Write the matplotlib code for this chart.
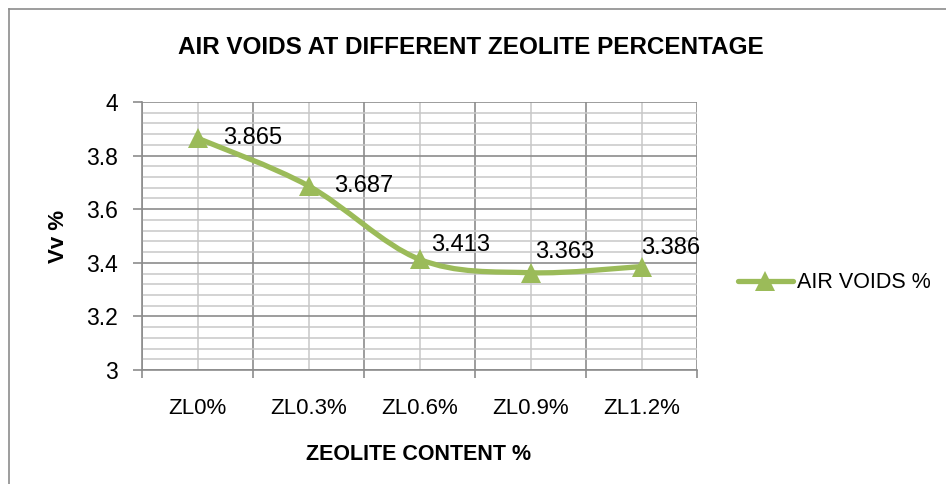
import matplotlib
matplotlib.use("Agg")
import matplotlib.pyplot as plt
from matplotlib.path import Path
from matplotlib.patches import PathPatch
from matplotlib.lines import Line2D
from matplotlib.ticker import MultipleLocator, FixedLocator
import numpy as np

# ---- data ----
categories = ["ZL0%", "ZL0.3%", "ZL0.6%", "ZL0.9%", "ZL1.2%"]
air_voids = [3.865, 3.687, 3.413, 3.363, 3.386]
label_texts = ["3.865", "3.687", "3.413", "3.363", "3.386"]
series_name = "AIR VOIDS %"
title = "AIR VOIDS AT DIFFERENT ZEOLITE PERCENTAGE"
x_title = "ZEOLITE CONTENT %"
y_title = "Vv %"

# label offsets (points) - placement only
label_offsets = [(18.5, 0), (18.5, 0), (8.5, 10.5), (3.5, 15), (0, 13)]

plt.rcParams["font.family"] = ["Liberation Sans", "DejaVu Sans"]

W, H = 946, 484
fig = plt.figure(figsize=(W / 100, H / 100), dpi=100)
fig.patch.set_facecolor("white")

L, R, T, B = 142, 697, 102, 370
ax = fig.add_axes([L / W, 1 - B / H, (R - L) / W, (B - T) / H])

green = "#9BBB59"
major_c = "#8C8C8C"
minor_c = "#C8C8C8"

x = np.arange(len(categories))
ax.set_xlim(-0.5, len(categories) - 0.5)
ax.set_ylim(3.0, 4.0)

# grid
ax.yaxis.set_major_locator(MultipleLocator(0.2))
ax.yaxis.set_minor_locator(MultipleLocator(0.04))
ax.xaxis.set_major_locator(FixedLocator(np.arange(-0.5, len(categories), 1.0)))
ax.xaxis.set_minor_locator(FixedLocator(x))
ax.grid(which="minor", color=minor_c, lw=1.1, zorder=0)
ax.grid(which="major", color=major_c, lw=1.2, zorder=0.5)
ax.set_axisbelow(True)

ax.set_yticks([3.0, 3.2, 3.4, 3.6, 3.8, 4.0])
ax.set_yticklabels(["3", "3.2", "3.4", "3.6", "3.8", "4"])
ax.set_xticklabels([""] * 6)
ax.tick_params(axis="y", which="major", direction="out", length=6.5, width=1.2,
               color=major_c, labelsize=16.5, pad=11)
ax.tick_params(axis="x", which="major", direction="out", length=6, width=1.2,
               color=major_c)
ax.tick_params(which="minor", length=0)
for i, c in enumerate(categories):
    ax.annotate(c, xy=(x[i], 0), xycoords=("data", "axes fraction"),
                xytext=(0, -28), textcoords="offset points",
                ha="center", va="center", fontsize=16)

for s in ["top", "right"]:
    ax.spines[s].set_visible(False)
for s in ["left", "bottom"]:
    ax.spines[s].set_color(major_c)
    ax.spines[s].set_linewidth(1.2)

# smoothed line (Bezier through data points)
pts = np.column_stack([x, air_voids]).astype(float)
n = len(pts)
verts = [tuple(pts[0])]
codes = [Path.MOVETO]
for i in range(n - 1):
    p0 = pts[i - 1] if i > 0 else pts[i]
    p1 = pts[i]
    p2 = pts[i + 1]
    p3 = pts[i + 2] if i + 2 < n else pts[i + 1]
    c1 = p1 + (p2 - p0) / 6.0
    c2 = p2 - (p3 - p1) / 6.0
    verts += [tuple(c1), tuple(c2), tuple(p2)]
    codes += [Path.CURVE4] * 3
patch = PathPatch(Path(verts, codes), facecolor="none", edgecolor=green,
                  lw=3.8, capstyle="round", joinstyle="round", zorder=3)
ax.add_patch(patch)
ax.plot(x, air_voids, ls="none", marker="^", ms=14, color=green,
        markeredgewidth=0, zorder=4, clip_on=False)

for i, t in enumerate(label_texts):
    ax.annotate(t, xy=(x[i], air_voids[i]), xytext=label_offsets[i],
                textcoords="offset points", ha="left", va="center",
                fontsize=17, zorder=5)

# titles
fig.text(471 / W, 1 - 48 / H, title, ha="center", va="center",
         fontsize=17.5, fontweight="bold")
fig.text(419 / W, 1 - 455 / H, x_title, ha="center", va="center",
         fontsize=15.5, fontweight="bold")
fig.text(58 / W, 1 - 236 / H, y_title, ha="center", va="center",
         rotation=90, fontsize=16, fontweight="bold")

# legend
handle = Line2D([0], [0], color=green, lw=3.8, marker="^", ms=14,
                markeredgewidth=0, solid_capstyle="round")
fig.legend([handle], [series_name], loc="center left",
           bbox_to_anchor=(738 / W, 1 - 283 / H), frameon=False,
           fontsize=15.5, handlelength=2.55, handletextpad=0.2,
           borderpad=0, borderaxespad=0)

# chart border (top and left visible)
fig.add_artist(Line2D([9 / W, 1.0], [1 - 9 / H, 1 - 9 / H],
                      transform=fig.transFigure, color="#8C8C8C", lw=1.2))
fig.add_artist(Line2D([9 / W, 9 / W], [1 - 9 / H, 0.0],
                      transform=fig.transFigure, color="#8C8C8C", lw=1.2))

fig.savefig("out.png", dpi=100, facecolor="white")
